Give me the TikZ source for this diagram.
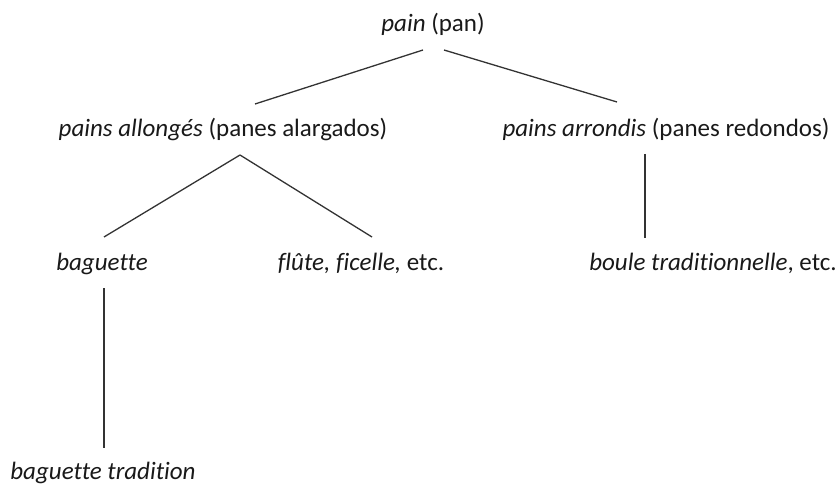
\documentclass[tikz,border=0pt]{standalone}
\usepackage{fontspec}
\setmainfont{Carlito}[Ligatures=NoCommon]
\begin{document}
\begin{tikzpicture}[x=1pt,y=-1pt,
  lbl/.style={anchor=base,inner sep=0pt,font=\fontsize{25}{30}\selectfont,text=black!90},
  edge/.style={line width=1.3pt,draw=black!80}]
\useasboundingbox (0,0) rectangle (838,484);
\node[lbl] (pain) at (433,32) {\textit{pain} (pan)};
\node[lbl] (allong) at (223,137) {\textit{pains allongés} (panes alargados)};
\node[lbl] (arrond) at (666,137) {\textit{pains arrondis} (panes redondos)};
\node[lbl] (bag) at (102,270) {\textit{baguette}};
\node[lbl] (flute) at (361,270) {\textit{flûte, ficelle,} etc.};
\node[lbl] (boule) at (713,270) {\textit{boule traditionnelle}, etc.};
\node[lbl] (trad) at (103,479) {\textit{baguette tradition}};
\draw[edge] ([shift={(-10,18)}]pain.base) -- ([shift={(32,-33)}]allong.base);
\draw[edge] ([shift={(11,18)}]pain.base) -- ([shift={(-49,-35)}]arrond.base);
\draw[edge] ([shift={(17,18)}]allong.base) -- ([shift={(2,-33)}]bag.base);
\draw[edge] ([shift={(17,18)}]allong.base) -- ([shift={(11,-33)}]flute.base);
\draw[edge] ([shift={(-21,17)}]arrond.base) -- ([shift={(-68,-32)}]boule.base);
\draw[edge] ([shift={(2,18)}]bag.base) -- ([shift={(1,-31)}]trad.base);
\end{tikzpicture}
\end{document}
